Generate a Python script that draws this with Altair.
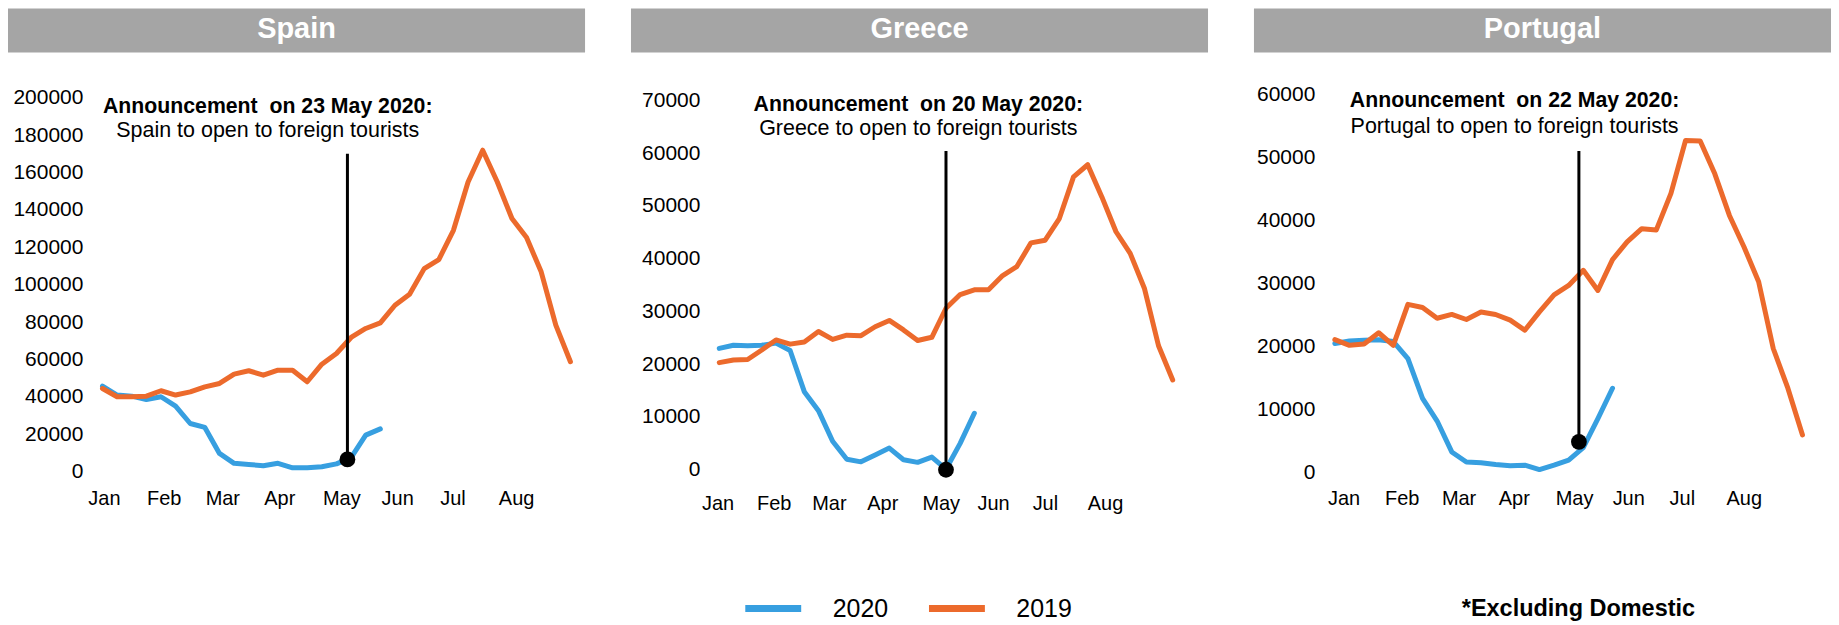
import json
import altair as alt
import pandas as pd

FONT = "Liberation Sans"
BLUE = "#379FE0"
ORANGE = "#EC6A2C"
GREY = "#A5A5A5"

months = ["Jan", "Feb", "Mar", "Apr", "May", "Jun", "Jul", "Aug"]
countries = ["Spain", "Greece", "Portugal"]
series_names = ["2020", "2019"]

# weekly arrivals (index 0 = first week of January)
spain_2019 = [44500, 40100, 40100, 40400, 43300, 41000, 42700, 45400, 47200, 52200,
              54000, 51600, 54300, 54300, 48100, 57500, 63200, 71800, 76600, 79600,
              89000, 94900, 108600, 113400, 129100, 154900, 171900, 154900, 135400,
              125200, 106900, 78400, 58800]
spain_2020 = [45800, 41000, 40400, 38600, 40100, 35100, 25800, 23700, 9800, 4500,
              3900, 3200, 4500, 2100, 2100, 2700, 4200, 7500, 19600, 22900]
greece_2019 = [20300, 20800, 20900, 22700, 24600, 23800, 24200, 26200, 24700, 25500,
               25400, 27100, 28300, 26500, 24500, 25100, 30600, 33200, 34100, 34100,
               36800, 38500, 43000, 43500, 47600, 55500, 57800, 51700, 45100, 41000,
               34400, 23500, 17000]
greece_2020 = [23000, 23600, 23500, 23600, 24000, 22600, 14800, 11200, 5400, 2000,
               1500, 2800, 4100, 1900, 1400, 2400, 100, 5000, 10700]
portugal_2019 = [21100, 20200, 20400, 22200, 20200, 26700, 26200, 24500, 25100, 24300,
                 25500, 25100, 24200, 22600, 25500, 28200, 29700, 32100, 28900, 33800,
                 36600, 38700, 38500, 44300, 52700, 52600, 47400, 40800, 35800, 30300,
                 19700, 13400, 6000]
portugal_2020 = [20500, 20900, 21000, 21100, 20800, 18100, 11800, 8200, 3300, 1700,
                 1600, 1300, 1100, 1200, 500, 1200, 2000, 4000, 8600, 13400]

data_2019 = [spain_2019, greece_2019, portugal_2019]
data_2020 = [spain_2020, greece_2020, portugal_2020]

y_ticks_max = [200000, 70000, 60000]
y_step = [20000, 10000, 10000]
y_domain_max = [201763, 71135, 60000]

ann_dates = ["23 May 2020", "20 May 2020", "22 May 2020"]
ann_week = [16.75, 16.0, 16.7]
ann_value = [6600, 0, 4900]
ann_top = [170000, 60400, 51000]
text_week = [11.3, 14.05, 12.3]
text_y1 = [194800, 69200, 58900]
text_y2 = [182000, 64500, 54800]

footnote = "*Excluding Domestic"

# month label positions (in week units) per panel
month_start = [-1.0, -1.26, -0.5]
month_step = [4.01, 3.89, 3.895]

# layout per panel (pixels)
x_domain = [[-1.0, 33.0], [-1.3, 34.0], [-1.3, 33.2]]
widths = [498, 501, 505]
heights = [378, 376, 379]
y_pad = [5, 1, 1]
x_pad = [17, 24, 16]
hdr_x = [[-80, 498], [-70, 508], [-62, 516]]
hdr_y = [-86, -42]
hdr_text_x = [209, 219, 227]
hdr_text_y = -65

months_js = json.dumps(months)
NB = "\u00a0"


def panel(i):
    d19 = data_2019[i]
    d20 = data_2020[i]
    df = pd.DataFrame({
        "week": list(range(len(d20))) + list(range(len(d19))),
        "value": d20 + d19,
        "series": ["2020"] * len(d20) + ["2019"] * len(d19),
    })
    tick_vals = [round(month_start[i] + k * month_step[i], 3) for k in range(len(months))]
    x_enc = alt.X(
        "week:Q",
        scale=alt.Scale(domain=x_domain[i], nice=False, zero=False),
        axis=alt.Axis(
            values=tick_vals,
            labelExpr=f"{months_js}[round((datum.value - ({month_start[i]}))/{month_step[i]})]",
            labelAlign="left", labelBaseline="top", labelPadding=x_pad[i],
            labelFontSize=20, labelFont=FONT, labelColor="black",
            domain=False, ticks=False, tickSize=0, grid=False,
            labelOverlap=False, labelFlush=False,
        ),
        title=None,
    )
    y_vals = list(range(0, y_ticks_max[i] + 1, y_step[i]))
    y_enc = alt.Y(
        "value:Q",
        scale=alt.Scale(domain=[0, y_domain_max[i]], nice=False),
        axis=alt.Axis(
            values=y_vals, tickCount=len(y_vals), format="d",
            labelFontSize=21, labelFont=FONT, labelColor="black", labelPadding=y_pad[i],
            domain=False, ticks=False, tickSize=0, grid=False,
            labelOverlap=False, labelFlush=False, labelSeparation=0,
        ),
        title=None,
    )
    if i == 1:
        legend = alt.Legend(
            orient="none", legendX=41, legendY=502, direction="horizontal",
            symbolType="stroke", symbolSize=3136, symbolStrokeWidth=7,
            clipHeight=26,
            labelFontSize=25, labelFont=FONT, labelColor="black",
            labelOffset=28, columnPadding=37, title=None, padding=0,
        )
    else:
        legend = None
    color = alt.Color(
        "series:N",
        scale=alt.Scale(domain=series_names, range=[BLUE, ORANGE]),
        legend=legend,
    )
    base = alt.Chart(df)
    line20 = base.transform_filter(alt.datum.series == "2020").mark_line(
        strokeWidth=5, strokeJoin="round", strokeCap="round").encode(
        x=x_enc, y=y_enc, color=color)
    line19 = base.transform_filter(alt.datum.series == "2019").mark_line(
        strokeWidth=5, strokeJoin="round", strokeCap="round").encode(
        x="week:Q", y="value:Q", color="series:N")

    ann = pd.DataFrame({"week": [ann_week[i]], "value": [ann_value[i]], "top": [ann_top[i]]})
    rule = alt.Chart(ann).mark_rule(color="black", strokeWidth=3).encode(
        x="week:Q", y="value:Q", y2="top:Q")
    dot = alt.Chart(ann).mark_point(filled=True, shape="circle", size=250, color="black",
                                    opacity=1).encode(x="week:Q", y="value:Q")

    txt = pd.DataFrame({
        "week": [text_week[i], text_week[i]],
        "y": [text_y1[i], text_y2[i]],
        "label": [f"Announcement{NB} on {ann_dates[i]}:",
                  f"{countries[i]} to open to foreign tourists"],
        "bold": [True, False],
    })
    t1 = alt.Chart(txt).transform_filter(alt.datum.bold).mark_text(
        fontSize=21.3, fontWeight="bold", font=FONT, color="black", baseline="middle").encode(
        x="week:Q", y="y:Q", text="label:N")
    t2 = alt.Chart(txt).transform_filter(~alt.datum.bold).mark_text(
        fontSize=21.5, font=FONT, color="black", baseline="middle").encode(
        x="week:Q", y="y:Q", text="label:N")

    hdr = pd.DataFrame({"name": [countries[i]]})
    rect = alt.Chart(hdr).mark_rect(color=GREY).encode(
        x=alt.value(hdr_x[i][0]), x2=alt.value(hdr_x[i][1]),
        y=alt.value(hdr_y[0]), y2=alt.value(hdr_y[1]))
    htxt = alt.Chart(hdr).mark_text(color="white", fontSize=29, fontWeight="bold",
                                    font=FONT, baseline="middle").encode(
        x=alt.value(hdr_text_x[i]), y=alt.value(hdr_text_y), text="name:N")

    layers = [rect, htxt, line20, line19, rule, dot, t1, t2]
    if i == 2:
        fn = alt.Chart(pd.DataFrame({"note": [footnote]})).mark_text(
            fontSize=23.5, fontWeight="bold", font=FONT, color="black", baseline="middle").encode(
            x=alt.value(263), y=alt.value(515), text="note:N")
        layers.append(fn)
    return alt.layer(*layers).properties(width=widths[i], height=heights[i])


chart = alt.hconcat(*[panel(i) for i in range(3)], spacing=46).resolve_scale(
    color="independent").properties(padding=0).configure_view(
    strokeWidth=0).configure_axis(labelOverlap=False)

chart.save("out.html", embed_options={"renderer": "svg", "actions": False})
